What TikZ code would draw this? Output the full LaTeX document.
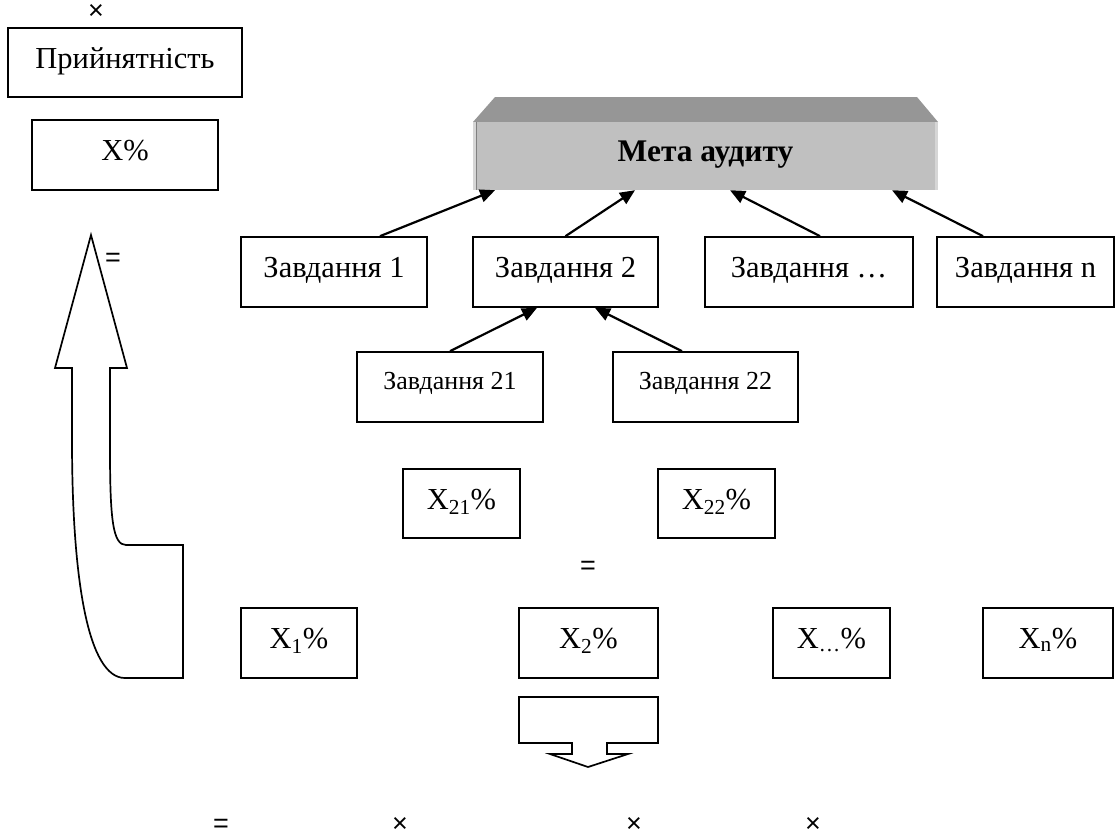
\documentclass[tikz,border=0pt]{standalone}
\usepackage{fontspec}
\setmainfont{Liberation Serif}
\newfontfamily\symfont{Liberation Sans}
\usetikzlibrary{arrows.meta}
\definecolor{topface}{HTML}{969696}
\definecolor{frontface}{HTML}{C0C0C0}
\definecolor{edgelight}{HTML}{D6D6D6}
\newcommand\mybigfont{\fontsize{30.5}{35}\selectfont}
\newcommand\mysmallfont{\fontsize{26}{30}\selectfont}
\begin{document}
\begin{tikzpicture}[x=1pt,y=-1pt,
  box/.style={draw=black, line width=1.7pt, inner sep=0pt, minimum height=70pt,
    text height=40pt, text depth=30pt, font=\mybigfont},
  sbox/.style={box, text height=37pt, text depth=33pt, font=\mysmallfont},
  link/.style={line width=2.2pt, -{Triangle[length=15pt,width=13pt]}},
  sym/.style={inner sep=0pt, anchor=base, text height=15pt, text depth=0pt,
    font=\symfont\fontsize{27}{27}\selectfont},
  outline/.style={draw=black, line width=1.7pt, fill=white, line join=miter}]
\useasboundingbox (0,0) rectangle (1116,839);

% acceptability and X%
\node[box, minimum width=234pt, minimum height=69pt, text depth=29pt] (acc) at (125,62.5) {Прийнятність};
\node[box, minimum width=186pt] (xp) at (125,155) {X\%};
\node[sym] (timestop) at (96,19.5) {×};

% goal box (3D bevel)
\fill[topface] (473,122) -- (495,97) -- (917,97) -- (938,122) -- cycle;
\node[fill=frontface, inner sep=0pt, minimum width=465pt, minimum height=68pt,
  text height=39pt, text depth=29pt, font=\fontsize{31.5}{36}\selectfont\bfseries] (goal) at (705.5,156) {Мета аудиту};
\fill[edgelight] (473,122) rectangle (476,190);
\fill[edgelight] (935,122) rectangle (938,190);
\draw[gray, line width=0.6pt] (476,122) -- (476,190);

% tasks
\node[box, minimum width=186pt] (t1) at (334,272) {Завдання 1};
\node[box, minimum width=185pt] (t2) at (565.5,272) {Завдання 2};
\node[box, minimum width=208pt] (t3) at (809,272) {Завдання …};
\node[box, minimum width=177pt] (tn) at (1025.5,272) {Завдання n};

\draw[link] ([xshift=46pt]t1.north) -- ([xshift=-210.5pt]goal.south);
\draw[link] (t2.north) -- ([xshift=-70.5pt]goal.south);
\draw[link] ([xshift=11pt]t3.north) -- ([xshift=24.5pt]goal.south);
\draw[link] ([xshift=-42.5pt]tn.north) -- ([xshift=186.5pt]goal.south);

% subtasks
\node[sbox, minimum width=186pt] (s21) at (450,387) {Завдання 21};
\node[sbox, minimum width=185pt] (s22) at (705.5,387) {Завдання 22};
\draw[link] (s21.north) -- ([xshift=-28.5pt]t2.south);
\draw[link] ([xshift=-23.5pt]s22.north) -- ([xshift=29.5pt]t2.south);

% subtask percentages
\node[box, minimum width=117pt, minimum height=69pt, text depth=29pt] (x21) at (461.5,503.5) {X\textsubscript{21}\%};
\node[box, minimum width=117pt, minimum height=69pt, text depth=29pt] (x22) at (716.5,503.5) {X\textsubscript{22}\%};
\node[sym] (eqmid) at (588,574.5) {=};

% task percentages
\node[box, minimum width=116pt] (x1) at (299,643) {X\textsubscript{1}\%};
\node[box, minimum width=139pt] (x2) at (588.5,643) {X\textsubscript{2}\%};
\node[box, minimum width=117pt] (xd) at (831.5,643) {X\textsubscript{…}\%};
\node[box, minimum width=130pt] (xn) at (1048,643) {X\textsubscript{n}\%};

% big curved up arrow
\draw[outline] (91,235) -- (127,368) -- (110,368) -- (110,450)
  .. controls (110,520) and (113,545) .. (126,545)
  -- (183,545) -- (183,678) -- (125,678)
  .. controls (88,678) and (72,580) .. (72,440)
  -- (72,368) -- (55,368) -- cycle;
\node[sym] (eqarrow) at (113,266.5) {=};

% down arrow callout
\draw[outline] (519,697) -- (658,697) -- (658,743) -- (607,743) -- (607,754)
  -- (628,754) -- (588,767) -- (550,754) -- (572,754) -- (572,743)
  -- (519,743) -- cycle;

% bottom formula symbols
\node[sym] (eqbot) at (221,832) {=};
\node[sym] (tb1) at (400,832) {×};
\node[sym] (tb2) at (634,832) {×};
\node[sym] (tb3) at (813,832) {×};
\end{tikzpicture}
\end{document}
